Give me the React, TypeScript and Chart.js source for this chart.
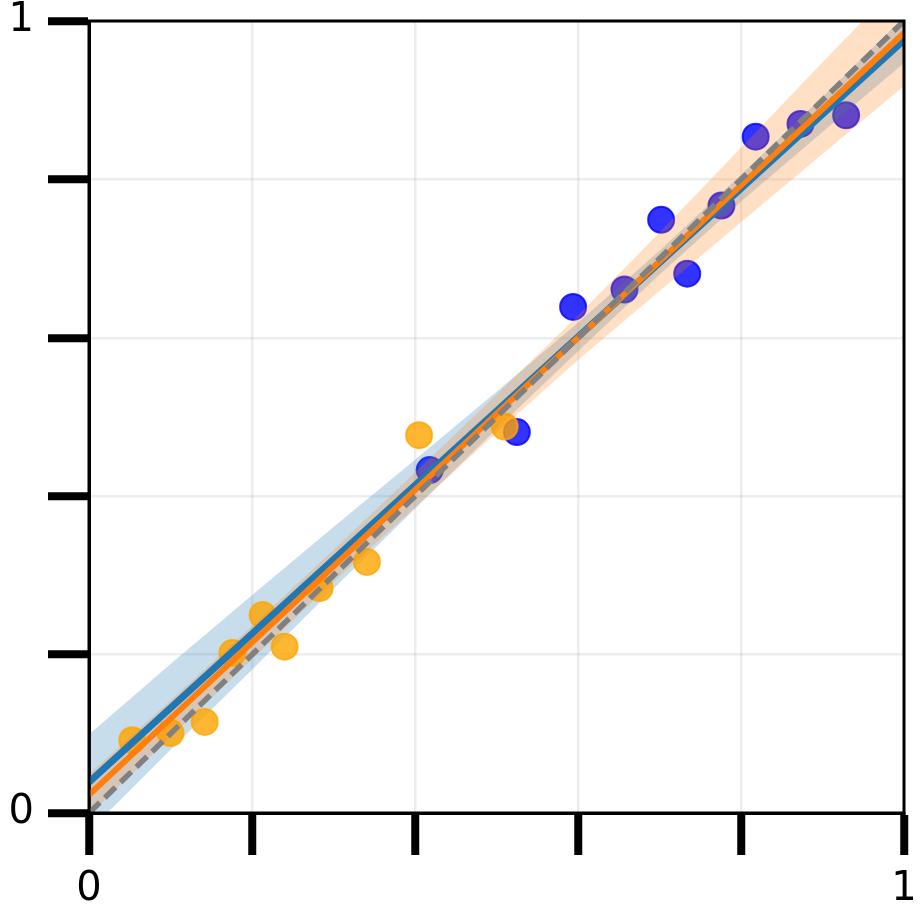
import React, { useEffect, useRef } from "react";
import { Chart, registerables } from "chart.js";

Chart.register(...registerables);

// Confidence band sample positions
const bandX = [0, 0.1, 0.2, 0.3, 0.4, 0.5, 0.6, 0.7, 0.8, 0.9, 1.0];
const blueUpper = [0.099, 0.188, 0.275, 0.361, 0.446, 0.532, 0.619, 0.71, 0.806, 0.904, 1.005];
const blueLower = [-0.023, 0.08, 0.181, 0.283, 0.384, 0.485, 0.583, 0.68, 0.772, 0.86, 0.947];
const orangeUpper = [0.049, 0.142, 0.236, 0.332, 0.43, 0.528, 0.628, 0.733, 0.84, 0.948, 1.054];
const orangeLower = [-0.003, 0.096, 0.194, 0.292, 0.386, 0.48, 0.572, 0.659, 0.746, 0.832, 0.918];

// Fit lines
const lineX = [0, 1];
const blueFitY = [0.039, 0.976];
const orangeFitY = [0.023, 0.985];
const identityY = [0, 1];

// Scatter points
const orangeX = [0.053, 0.1, 0.142, 0.176, 0.213, 0.24, 0.283, 0.341, 0.405, 0.51];
const orangeY = [0.092, 0.101, 0.115, 0.202, 0.25, 0.21, 0.284, 0.317, 0.477, 0.488];
const blueX = [0.418, 0.525, 0.594, 0.657, 0.702, 0.734, 0.776, 0.818, 0.873, 0.929];
const blueY = [0.433, 0.481, 0.639, 0.661, 0.749, 0.681, 0.767, 0.854, 0.87, 0.881];

// Axis ticks
const tickValues = [0, 0.2, 0.4, 0.6, 0.8, 1];
const labeledTicks = ["0", "1"];

const pts = (xs: number[], ys: number[]) => xs.map((x, i) => ({ x, y: ys[i] }));

const framePlugin = {
  id: "frame",
  afterDatasetsDraw(chart: any) {
    const { ctx, chartArea } = chart;
    const { left, top, right, bottom } = chartArea;
    ctx.save();
    ctx.strokeStyle = "#000";
    ctx.lineWidth = 3;
    ctx.beginPath();
    ctx.moveTo(left, bottom);
    ctx.lineTo(left, top);
    ctx.lineTo(right, top);
    ctx.lineTo(right, bottom);
    ctx.closePath();
    ctx.stroke();
    ctx.restore();
  },
};

const tickFont = { family: "DejaVu Sans", size: 40 };

function labelFor(v: number) {
  const s = String(Math.round(v * 1000) / 1000);
  return labeledTicks.includes(s) ? s : "";
}

export default function App() {
  const ref = useRef<HTMLCanvasElement | null>(null);

  useEffect(() => {
    if (!ref.current) return;
    const lineBase = { showLine: true, pointRadius: 0, tension: 0, fill: false };
    const chart = new Chart(ref.current, {
      type: "scatter",
      data: {
        datasets: [
          {
            ...lineBase,
            label: "identity",
            data: pts(lineX, identityY),
            borderColor: "#808080",
            borderWidth: 5.5,
            borderDash: [15, 7],
            borderCapStyle: "butt",
            order: 0,
          },
          {
            ...lineBase,
            label: "orange fit",
            data: pts(lineX, orangeFitY),
            borderColor: "#ff7f0e",
            borderWidth: 6,
            order: 1,
          },
          {
            ...lineBase,
            label: "blue fit",
            data: pts(lineX, blueFitY),
            borderColor: "#1f77b4",
            borderWidth: 7,
            order: 2,
          },
          {
            ...lineBase,
            label: "orange band upper",
            data: pts(bandX, orangeUpper),
            borderWidth: 0,
            borderColor: "rgba(0,0,0,0)",
            backgroundColor: "rgba(255,127,14,0.24)",
            fill: "+1",
            order: 3,
          },
          {
            ...lineBase,
            label: "orange band lower",
            data: pts(bandX, orangeLower),
            borderWidth: 0,
            borderColor: "rgba(0,0,0,0)",
            order: 4,
          },
          {
            label: "orange points",
            data: pts(orangeX, orangeY),
            pointRadius: 13,
            pointBorderWidth: 2,
            backgroundColor: "rgba(255,165,0,0.8)",
            borderColor: "rgba(255,165,0,0.8)",
            order: 5,
          },
          {
            ...lineBase,
            label: "blue band upper",
            data: pts(bandX, blueUpper),
            borderWidth: 0,
            borderColor: "rgba(0,0,0,0)",
            backgroundColor: "rgba(31,119,180,0.25)",
            fill: "+1",
            order: 6,
          },
          {
            ...lineBase,
            label: "blue band lower",
            data: pts(bandX, blueLower),
            borderWidth: 0,
            borderColor: "rgba(0,0,0,0)",
            order: 7,
          },
          {
            label: "blue points",
            data: pts(blueX, blueY),
            pointRadius: 13,
            pointBorderWidth: 2,
            backgroundColor: "rgba(0,0,255,0.8)",
            borderColor: "rgba(0,0,255,0.8)",
            order: 8,
          },
        ] as any,
      },
      options: {
        animation: false,
        responsive: false,
        maintainAspectRatio: false,
        layout: { padding: { top: 21, right: 17, left: 0, bottom: 0 } },
        plugins: { legend: { display: false }, tooltip: { enabled: false } },
        scales: {
          x: {
            type: "linear",
            min: 0,
            max: 1,
            afterBuildTicks: (s: any) => {
              s.ticks = tickValues.map((v) => ({ value: v }));
            },
            afterFit: (s: any) => {
              s.height = 103;
              s.paddingLeft = 0;
              s.paddingRight = 0;
            },
            ticks: {
              callback: (v: any) => labelFor(Number(v)),
              font: tickFont,
              color: "#000",
              padding: 11,
              maxRotation: 0,
              autoSkip: false,
            },
            grid: {
              color: "rgba(0,0,0,0.07)",
              lineWidth: 2.5,
              drawTicks: true,
              tickLength: 42,
              tickWidth: 8,
              tickColor: "#000",
            },
            border: { display: true, color: "#000", width: 3 },
          },
          y: {
            type: "linear",
            min: 0,
            max: 1,
            afterBuildTicks: (s: any) => {
              s.ticks = tickValues.map((v) => ({ value: v }));
            },
            afterFit: (s: any) => {
              s.width = 89;
              s.paddingTop = 0;
              s.paddingBottom = 0;
            },
            ticks: {
              callback: (v: any) => labelFor(Number(v)),
              font: tickFont,
              color: "#000",
              padding: 14,
              autoSkip: false,
            },
            grid: {
              color: "rgba(0,0,0,0.07)",
              lineWidth: 2.5,
              drawTicks: true,
              tickLength: 41,
              tickWidth: 8,
              tickColor: "#000",
            },
            border: { display: true, color: "#000", width: 3 },
          },
        },
      } as any,
      plugins: [framePlugin],
    });
    return () => chart.destroy();
  }, []);

  return (
    <div style={{ position: "absolute", left: 0, top: 0, width: 921, height: 916, background: "#fff" }}>
      <canvas ref={ref} width={921} height={916} style={{ display: "block" }} />
    </div>
  );
}
